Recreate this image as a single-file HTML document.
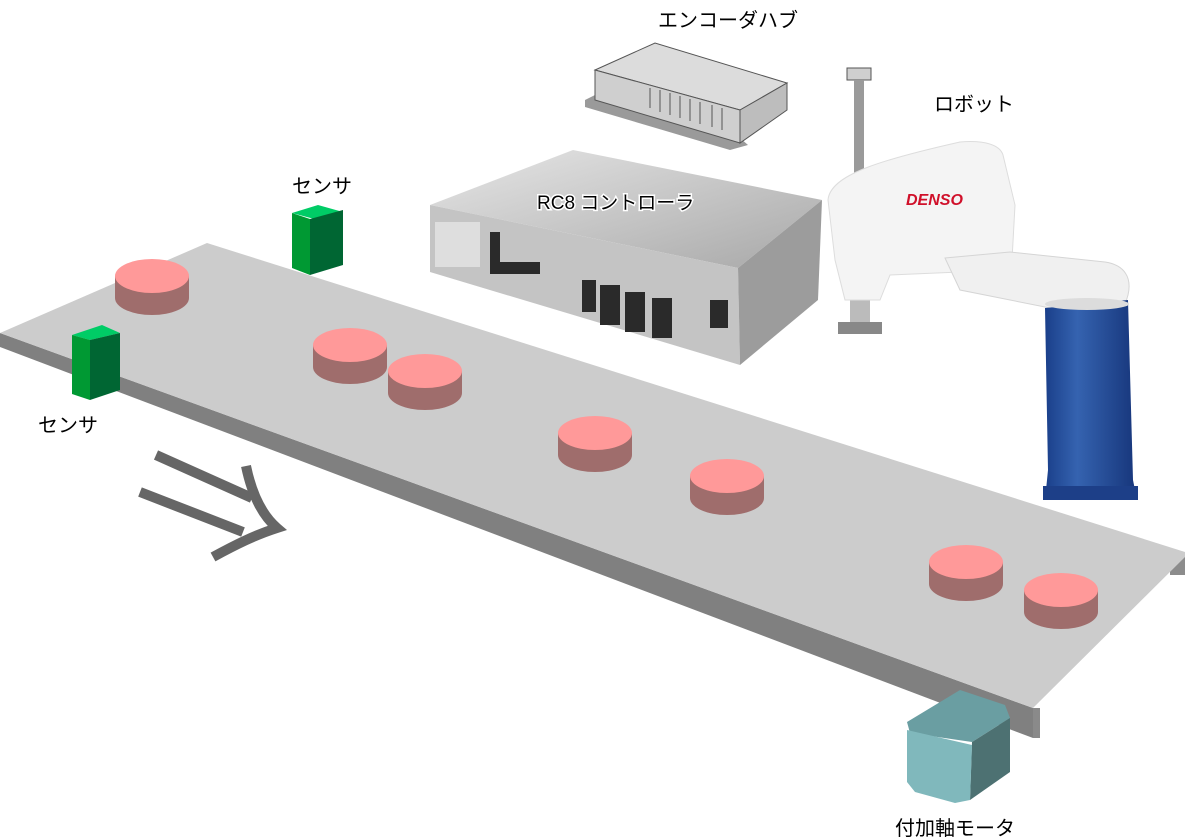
<!DOCTYPE html>
<html><head><meta charset="utf-8"><style>
html,body{margin:0;padding:0;background:#fff;}
svg{display:block;}
text{font-family:"Liberation Sans","Noto Sans CJK JP",sans-serif;font-size:20px;fill:#000;}
</style></head><body>
<svg width="1185" height="840" viewBox="0 0 1185 840" xmlns="http://www.w3.org/2000/svg">
<defs>
<linearGradient id="metal" x1="0" y1="0" x2="1" y2="1"><stop offset="0" stop-color="#e6e6e6"/><stop offset="1" stop-color="#a8a8a8"/></linearGradient>
<linearGradient id="blue" x1="0" y1="0" x2="1" y2="0"><stop offset="0" stop-color="#1a3f8a"/><stop offset="0.35" stop-color="#3563b0"/><stop offset="1" stop-color="#16357a"/></linearGradient>
</defs>
<!-- conveyor -->
<polygon points="0,333 0,347 1033,738 1033,708" fill="#808080"/>
<polygon points="1033,708 1033,738 1040,738 1040,708" fill="#8a8a8a"/>
<polygon points="1170,557 1185,552 1185,575 1170,575" fill="#8c8c8c"/>
<polygon points="0,333 207,243 1185,552 1185,557 1033,708" fill="#cccccc"/>
<!-- motor -->
<polygon points="907,722 960,690 1005,705 1010,718 972,742 910,733" fill="#6a9ea2"/>
<polygon points="972,742 1010,718 1010,772 970,800" fill="#4d7172"/>
<polygon points="907,730 972,745 970,800 955,803 915,792 907,782" fill="#80b8bc"/>
<!-- sensors -->
<polygon points="292,213 318,205 343,212 318,220" fill="#00cc66"/>
<polygon points="292,213 310,219 310,275 292,268" fill="#009933"/>
<polygon points="310,219 343,210 343,265 310,275" fill="#006633"/>
<polygon points="72,335 102,325 120,333 90,340" fill="#00cc66"/>
<polygon points="72,335 90,340 90,400 72,394" fill="#009933"/>
<polygon points="90,340 120,333 120,390 90,400" fill="#006633"/>
<!-- pucks -->
<g>
<g transform="translate(152,276)"><path d="M-37,0 v22 a37,17 0 0 0 74,0 v-22 z" fill="#9f6d6c"/><ellipse rx="37" ry="17" fill="#ff9999"/></g>
<g transform="translate(350,345)"><path d="M-37,0 v22 a37,17 0 0 0 74,0 v-22 z" fill="#9f6d6c"/><ellipse rx="37" ry="17" fill="#ff9999"/></g>
<g transform="translate(425,371)"><path d="M-37,0 v22 a37,17 0 0 0 74,0 v-22 z" fill="#9f6d6c"/><ellipse rx="37" ry="17" fill="#ff9999"/></g>
<g transform="translate(595,433)"><path d="M-37,0 v22 a37,17 0 0 0 74,0 v-22 z" fill="#9f6d6c"/><ellipse rx="37" ry="17" fill="#ff9999"/></g>
<g transform="translate(727,476)"><path d="M-37,0 v22 a37,17 0 0 0 74,0 v-22 z" fill="#9f6d6c"/><ellipse rx="37" ry="17" fill="#ff9999"/></g>
<g transform="translate(966,562)"><path d="M-37,0 v22 a37,17 0 0 0 74,0 v-22 z" fill="#9f6d6c"/><ellipse rx="37" ry="17" fill="#ff9999"/></g>
<g transform="translate(1061,590)"><path d="M-37,0 v22 a37,17 0 0 0 74,0 v-22 z" fill="#9f6d6c"/><ellipse rx="37" ry="17" fill="#ff9999"/></g>
</g>
<!-- arrow -->
<path d="M156,455 L252,498 M140,492 L243,532 M246,466 C252,495 262,515 277,528 C255,535 235,545 213,557" fill="none" stroke="#666" stroke-width="10"/>
<!-- encoder hub -->
<polygon points="585,100 595,95 740,138 748,145 730,150 585,107" fill="#9a9a9a"/>
<polygon points="595,70 655,43 787,83 740,110" fill="#dcdcdc" stroke="#555" stroke-width="1"/>
<polygon points="595,70 740,110 740,143 595,100" fill="#cfcfcf" stroke="#555" stroke-width="1"/>
<polygon points="740,110 787,83 787,110 740,143" fill="#bdbdbd" stroke="#555" stroke-width="1"/>
<g stroke="#555" fill="none"><path d="M650,88 v20 M660,90 v22 M670,93 v22 M680,96 v22 M690,99 v22 M700,102 v22 M712,105 v22 M722,108 v22"/></g>
<!-- controller -->
<polygon points="430,205 573,150 822,200 738,268" fill="url(#metal)"/>
<polygon points="430,205 738,268 740,365 430,272" fill="#c4c4c4"/>
<polygon points="738,268 822,200 818,300 740,365" fill="#9c9c9c"/>
<g fill="#2a2a2a"><rect x="582" y="280" width="14" height="32"/><rect x="600" y="285" width="20" height="40"/><rect x="625" y="292" width="20" height="40"/><rect x="652" y="298" width="20" height="40"/><rect x="710" y="300" width="18" height="28"/><rect x="490" y="262" width="50" height="12"/><rect x="490" y="232" width="10" height="30"/></g>
<rect x="435" y="222" width="45" height="45" fill="#dedede"/>
<text x="537" y="209" style="font-size:19px;stroke:#fff;stroke-width:3px;paint-order:stroke;">RC8 コントローラ</text>
<!-- robot -->
<rect x="847" y="68" width="24" height="12" fill="#cfcfcf" stroke="#555"/>
<rect x="854" y="80" width="10" height="110" fill="#9a9a9a"/>
<rect x="850" y="295" width="20" height="27" fill="#bbb"/>
<rect x="838" y="322" width="44" height="12" fill="#888"/>
<path d="M828,200 C830,175 880,160 960,142 C985,140 1000,145 1003,155 L1015,205 L1012,260 L960,272 L890,275 L880,300 L845,300 L835,260 Z" fill="#f4f4f4" stroke="#ddd"/>
<path d="M945,258 L1010,252 L1105,262 C1125,265 1132,278 1128,295 L1125,305 L1050,308 L960,290 Z" fill="#f0f0f0" stroke="#d5d5d5"/>
<polygon points="1045,308 1128,300 1133,480 1137,500 1045,500 1048,470" fill="url(#blue)"/>
<ellipse cx="1087" cy="304" rx="42" ry="6" fill="#dcdcdc"/>
<rect x="1043" y="486" width="95" height="14" fill="#1d3f88"/>
<text x="906" y="205" style="font-size:16px;fill:#d0102a;font-weight:bold;font-style:italic;">DENSO</text>
<!-- labels -->
<text x="658" y="27">エンコーダハブ</text>
<text x="934" y="111">ロボット</text>
<text x="292" y="193">センサ</text>
<text x="38" y="432">センサ</text>
<text x="895" y="835">付加軸モータ</text>
</svg>
</body></html>
